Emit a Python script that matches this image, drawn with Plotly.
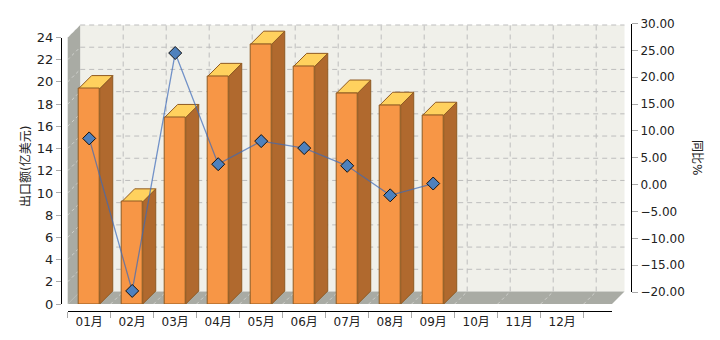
import plotly.graph_objects as go

# ---------------- data ----------------
months = ["01月", "02月", "03月", "04月", "05月", "06月",
          "07月", "08月", "09月", "10月", "11月", "12月"]
export_values = [19.4, 9.2, 16.8, 20.5, 23.4, 21.4, 19.0, 17.9, 17.0]   # 出口额(亿美元)
yoy_values = [8.6, -19.8, 24.5, 3.8, 8.1, 6.8, 3.5, -2.0, 0.2]          # 同比%
left_ticks = list(range(0, 25, 2))
right_ticks = list(range(-20, 31, 5))

# ---------------- layout geometry (pixels) ----------------
W, H = 720, 340
X0 = 67.7          # left edge of category band (front)
CAT = 43.0         # category width
X_END = 612.0      # right end of front x-axis line
Y_ZERO = 304.0     # left axis value 0
Y_TOP = 37.5       # left axis value 24
YL_X = 61.0        # left axis line x
YR_X = 631.0       # right axis line x
R_TOP, R_BOT = 23.5, 292.0   # right axis 30 / -20
XLINE_Y = 311.0    # x-axis line y
WALL_D = 12.5      # wall depth offset
BAR_D = 13.0       # bar depth offset
BAR_W = 0.49       # bar width (category units)

s = (Y_ZERO - Y_TOP) / (left_ticks[-1] - left_ticks[0])   # px per left unit
c0 = X0 + CAT / 2
i_end = -0.5 + (X_END - X0) / CAT
wdx, wdy = WALL_D / CAT, WALL_D / s
bdx, bdy = BAR_D / CAT, BAR_D / s
ymax = left_ticks[-1]

C_FRONT = "#F79646"
C_SIDE = "#B0692E"
C_TOP = "#FFD15E"
C_EDGE = "#8F5A22"
C_WALL = "#F0F0EA"
C_GRAY = "#A9ABA4"
C_GRID = "#BDBDBD"

fig = go.Figure()

def poly(points_list, fill, line_color, width=0):
    xs, ys = [], []
    for pts in points_list:
        for (px, py) in pts + [pts[0]]:
            xs.append(px); ys.append(py)
        xs.append(None); ys.append(None)
    fig.add_trace(go.Scatter(x=xs, y=ys, mode="lines", fill="toself",
                             fillcolor=fill, line=dict(color=line_color, width=width),
                             hoverinfo="skip", showlegend=False, xaxis="x", yaxis="y"))

def lines(segs, color, width=1, dash="solid"):
    xs, ys = [], []
    for (a, b) in segs:
        xs += [a[0], b[0], None]; ys += [a[1], b[1], None]
    fig.add_trace(go.Scatter(x=xs, y=ys, mode="lines",
                             line=dict(color=color, width=width, dash=dash),
                             hoverinfo="skip", showlegend=False, xaxis="x", yaxis="y"))

# back wall
poly([[(-0.5 + wdx, wdy), (i_end + wdx, wdy), (i_end + wdx, ymax + wdy), (-0.5 + wdx, ymax + wdy)]],
     C_WALL, C_WALL)
# floor and left wall
poly([[(-0.5, 0), (i_end, 0), (i_end + wdx, wdy), (-0.5 + wdx, wdy)]], C_GRAY, C_GRAY)
poly([[(-0.5, 0), (-0.5, ymax), (-0.5 + wdx, ymax + wdy), (-0.5 + wdx, wdy)]], C_GRAY, C_GRAY)

# grid on back wall
hseg = [((-0.5 + wdx, t + wdy), (i_end + wdx, t + wdy)) for t in left_ticks[1:]]
vseg = [((k - 0.5 + wdx, wdy), (k - 0.5 + wdx, ymax + wdy)) for k in range(1, len(months) + 1)]
lines(hseg + vseg, C_GRID, 1, "5px,4px")
# faint depth dashes on walls
dseg = [((-0.5, t), (-0.5 + wdx, t + wdy)) for t in left_ticks[1:]]
dseg += [((k - 0.5, 0), (k - 0.5 + wdx, wdy)) for k in range(1, len(months) + 1)]
lines(dseg, "rgba(255,255,255,0.45)", 1, "3px,3px")

# bar sides and tops
sides, tops = [], []
for i, v in enumerate(export_values):
    r, l = i + BAR_W / 2, i - BAR_W / 2
    sides.append([(r, 0), (r, v), (r + bdx, v + bdy), (r + bdx, bdy)])
    tops.append([(l, v), (r, v), (r + bdx, v + bdy), (l + bdx, v + bdy)])
poly(sides, C_SIDE, C_EDGE, 1)
poly(tops, C_TOP, C_EDGE, 1)

# bar fronts
fig.add_trace(go.Bar(x=list(range(len(export_values))), y=export_values, width=BAR_W,
                     marker=dict(color=C_FRONT, line=dict(color=C_EDGE, width=1)),
                     xaxis="x2", yaxis="y2", showlegend=False, name="出口额"))

# yoy line
fig.add_trace(go.Scatter(x=list(range(len(yoy_values))), y=yoy_values, mode="lines+markers",
                         line=dict(color="rgba(60,105,185,0.7)", width=1.3),
                         marker=dict(symbol="diamond", size=10, color="#4F81BD",
                                     line=dict(color="#111", width=1)),
                         cliponaxis=False, xaxis="x2", yaxis="y3", showlegend=False, name="同比"))

font = dict(family="DejaVu Sans, Noto Sans CJK SC", size=12, color="#222")

fig.update_layout(
    width=W, height=H, margin=dict(l=0, r=0, t=0, b=0, pad=0, autoexpand=False),
    paper_bgcolor="white", plot_bgcolor="rgba(0,0,0,0)", font=font,
    bargap=0,
    xaxis=dict(domain=[0, 1], range=[(0 - c0) / CAT, (W - c0) / CAT], visible=False,
               fixedrange=True, automargin=False),
    yaxis=dict(domain=[0, 1], range=[(Y_ZERO - H) / s, Y_ZERO / s], visible=False,
               fixedrange=True, automargin=False),
    xaxis2=dict(domain=[X0 / W, X_END / W], range=[-0.5, i_end], anchor="free",
                position=(H - XLINE_Y) / H, showline=True, linecolor="#000", linewidth=1,
                tickvals=list(range(len(months))), ticktext=months, ticks="",
                minor=dict(tickvals=[k - 0.5 for k in range(len(months) + 1)], ticks="outside",
                           ticklen=6, tickcolor="#aaa", showgrid=False),
                showgrid=False, zeroline=False, tickfont=font, automargin=False),
    yaxis2=dict(domain=[(H - Y_ZERO) / H, (H - Y_TOP) / H], range=[left_ticks[0], left_ticks[-1]],
                anchor="free", position=YL_X / W, side="left", tickvals=left_ticks,
                ticks="outside", ticklen=5, tickcolor="#aaa", showline=True, linecolor="#000",
                showgrid=False, zeroline=False, tickfont=dict(font, size=13), automargin=False),
    yaxis3=dict(domain=[(H - R_BOT) / H, (H - R_TOP) / H], range=[right_ticks[0], right_ticks[-1]],
                anchor="free", position=YR_X / W, side="right", tickvals=right_ticks,
                tickformat=".2f", ticks="outside", ticklen=6, tickcolor="#aaa", showline=True,
                linecolor="#000", showgrid=False, zeroline=False, tickfont=font, automargin=False),
    annotations=[
        dict(text="出口额(亿美元)", x=25 / W, y=(H - 167) / H, xref="paper", yref="paper",
             xanchor="center", yanchor="middle",
             showarrow=False, textangle=-90, font=dict(font, size=12)),
        dict(text="同比%", x=697 / W, y=(H - 157) / H, xref="paper", yref="paper",
             xanchor="center", yanchor="middle",
             showarrow=False, textangle=90, font=dict(font, size=12)),
    ],
)

fig.write_html("out.html")
